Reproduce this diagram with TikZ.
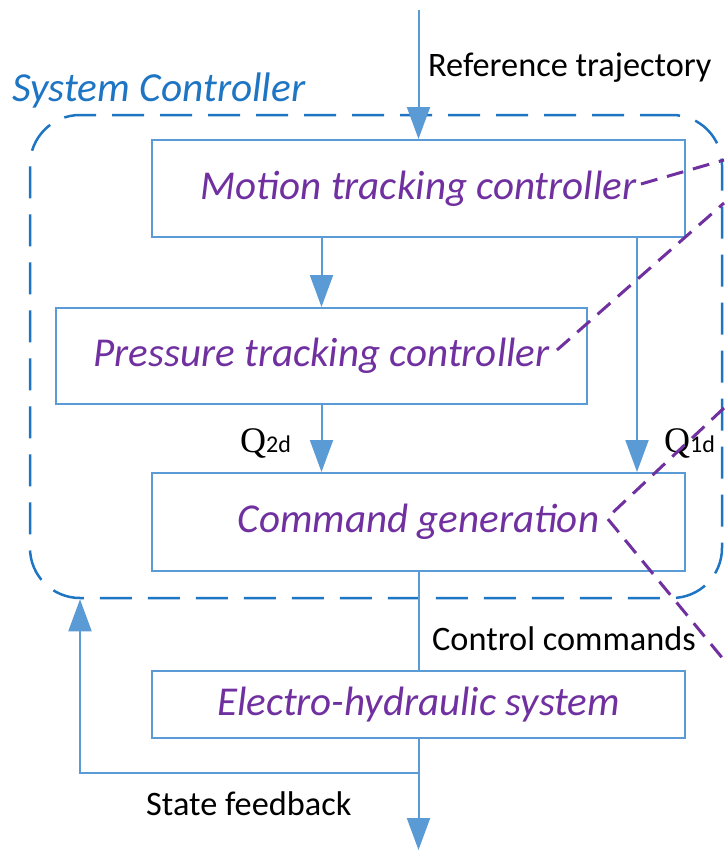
\documentclass[tikz,border=0pt]{standalone}
\usepackage{fontspec}
\setmainfont{Carlito}
\newfontfamily\qfont{Liberation Serif}
\usetikzlibrary{arrows.meta}
\definecolor{boxblue}{RGB}{91,155,213}
\definecolor{ctrlblue}{RGB}{30,117,195}
\definecolor{purp}{RGB}{112,48,160}
\begin{document}
\begin{tikzpicture}[x=1pt,y=-1pt,
  blk/.style={draw=boxblue, line width=2pt, minimum width=533pt, inner sep=0pt,
    font=\fontsize{41}{49}\selectfont\itshape, text=purp},
  flow/.style={draw=boxblue, line width=2pt, -{Triangle[length=32pt,width=23pt]}},
  plain/.style={draw=boxblue, line width=2pt},
  lbl/.style={font=\fontsize{34.3}{41}\selectfont, text=black, inner sep=0pt},
  link/.style={draw=purp, line width=3pt, dash pattern=on 17pt off 10pt},
  ctrl/.style={draw=ctrlblue, line width=2.5pt, dash pattern=on 32pt off 16pt, rounded corners=50pt}]
\useasboundingbox (0,0) rectangle (724,851);

% system controller frame
\node[ctrl, minimum width=692pt, minimum height=483pt, inner sep=0pt] (sc) at (376,356.5) {};
\node[anchor=base west, inner sep=0pt, font=\fontsize{41.3}{49}\selectfont\itshape, text=ctrlblue] (title) at (12,101) {System Controller};

% blocks
\node[blk, minimum height=97pt] (mtc) at (418.5,188.5) {Motion tracking controller};
\node[blk, minimum width=531pt, minimum height=96pt] (ptc) at (321.5,356) {Pressure tracking controller};
\node[blk, minimum height=98pt] (cg) at (418.5,522) {Command generation};
\node[blk, minimum height=67pt] (ehs) at (418.5,704.5) {Electro-hydraulic system};

% connectors
\coordinate (rtop) at (418.5,10);
\draw[flow] (rtop) -- (mtc.north);
\node[lbl, anchor=base west] (reflbl) at (428,77) {Reference trajectory};

\draw[flow] (ptc.north |- mtc.south) -- (ptc.north);
\coordinate (q1x) at (637,0);
\draw[flow] (q1x |- mtc.south) -- (q1x |- cg.north);
\draw[flow] (ptc.south) -- (ptc.south |- cg.north);

\node[anchor=base west, inner sep=0pt] (q2) at (240,452) {\fontsize{36}{42}\selectfont\qfont Q\fontsize{24}{28}\selectfont\normalfont 2d};
\node[anchor=base west, inner sep=0pt] (q1) at (664,452) {\fontsize{36}{42}\selectfont\qfont Q\fontsize{24}{28}\selectfont\normalfont 1d};

\draw[plain] (cg.south) -- (ehs.north);
\node[lbl, anchor=base west] (cclbl) at (432,650) {Control commands};

\coordinate (fb) at (418.5,773);
\coordinate (fbl) at (80,773);
\coordinate (out) at (418.5,850);
\draw[flow] (ehs.south) -- (out);
\draw[flow] (fb) -- (fbl) -- (fbl |- sc.south);
\node[lbl, anchor=base west] (sflbl) at (146,815) {State feedback};

% purple dashed callout lines
\coordinate (m1) at (641,184);
\coordinate (e1) at (724,160);
\coordinate (m2) at (557,350);
\coordinate (e2) at (724,203);
\coordinate (m3) at (607,518);
\coordinate (e3) at (724,408);
\coordinate (e4) at (724,660);
\draw[link] (m1) -- (e1);
\draw[link] (m2) -- (e2);
\draw[link] (e3) -- (m3) -- (e4);
\end{tikzpicture}
\end{document}
